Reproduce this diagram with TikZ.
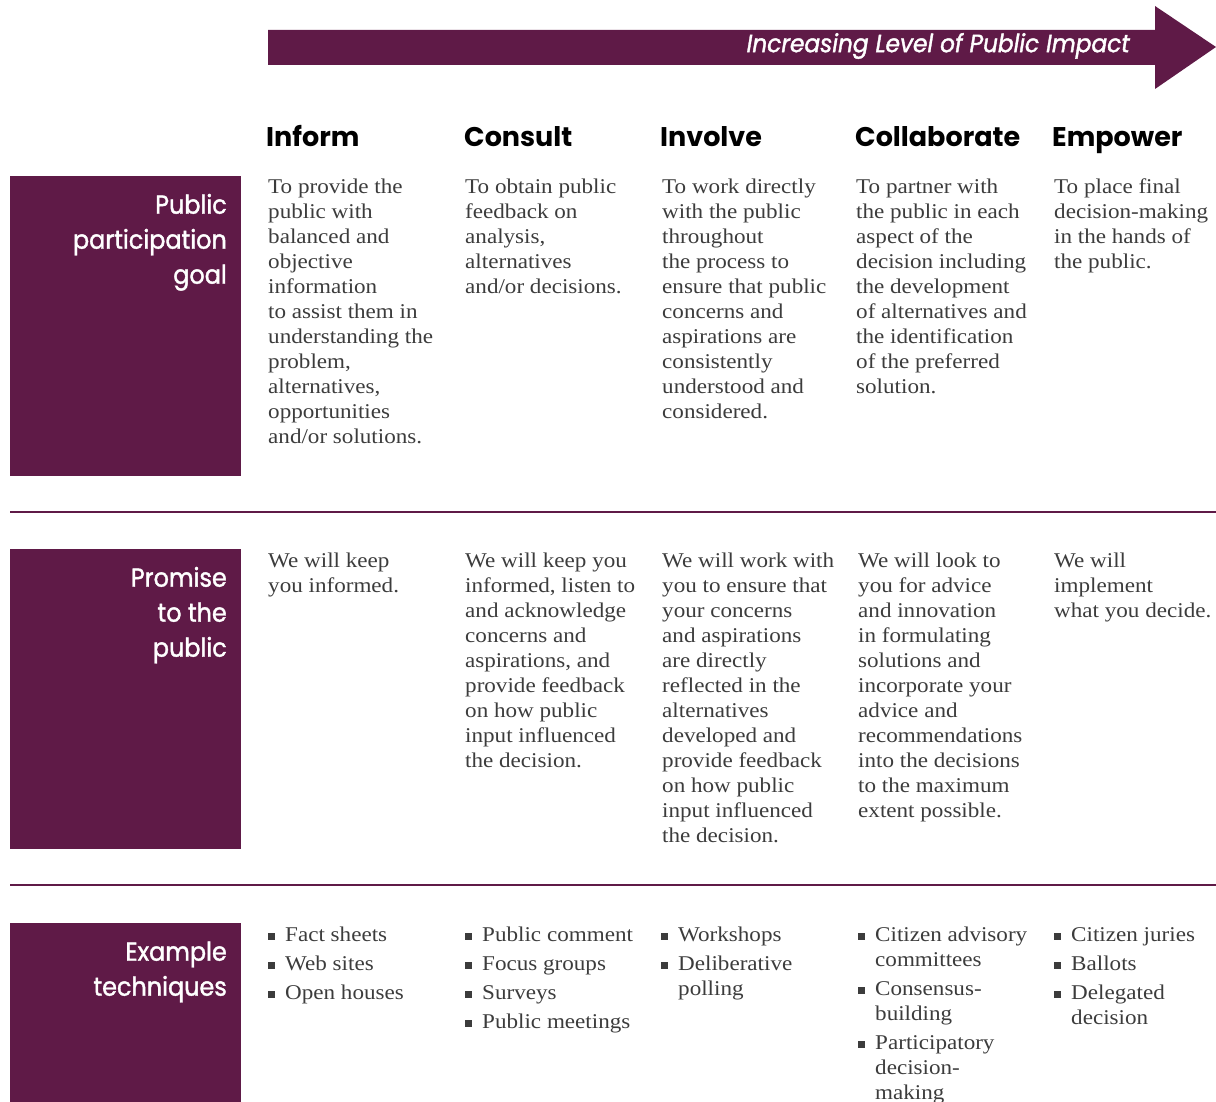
\documentclass[tikz,border=0pt]{standalone}
\usepackage{fontspec}
\setmainfont{Liberation Serif}[FakeStretch=1.1]
\setsansfont{Poppins}
\newfontfamily\lblfont{Poppins}[FakeStretch=0.92,FakeBold=1.5]
\newfontfamily\arrfont{Poppins}[FakeStretch=0.93,FakeBold=1.5]
\definecolor{iap}{HTML}{5F1A47}
\definecolor{bodytxt}{HTML}{3C3C3C}
\newcommand\itm{\makebox[17pt][l]{\rule[1.5pt]{7pt}{7pt}}}
\newcommand\ind{\hspace*{17pt}}
\begin{document}
\begin{tikzpicture}[x=1pt,y=-1pt,
  lbl/.style={anchor=north east, inner sep=0, align=right, text=white, font=\lblfont\fontsize{26}{35}\selectfont},
  hdr/.style={anchor=base west, inner sep=0, font=\sffamily\bfseries\fontsize{27}{32}\selectfont, text=black},
  txt/.style={anchor=north west, inner sep=0, align=left, text=bodytxt, font=\fontsize{21}{25}\selectfont},
  lst/.style={txt},
  rowbox/.style={fill=iap, draw=none, anchor=north west, minimum width=231pt, inner sep=0},
  sep/.style={draw=iap, line width=1.2pt}]
\useasboundingbox (0,0) rectangle (1216,1102);
% arrow
\fill[iap] (268,30) -- (1155,30) -- (1155,6) -- (1216,47) -- (1155,89) -- (1155,65) -- (268,65) -- cycle;
\node[anchor=east, inner sep=0, text=white, font=\arrfont\itshape\fontsize{25}{28}\selectfont] (arrowtxt) at (1130,46) {Increasing Level of Public Impact};
% headers
\node[hdr] (h1) at (266,147) {Inform};
\node[hdr] (h2) at (464,147) {Consult};
\node[hdr] (h3) at (660,147) {Involve};
\node[hdr] (h4) at (855,147) {Collaborate};
\node[hdr] (h5) at (1052,147) {Empower};
% row boxes
\node[rowbox, minimum height=300pt] (b1) at (10,176) {};
\node[rowbox, minimum height=300pt] (b2) at (10,549) {};
\node[rowbox, minimum height=179pt] (b3) at (10,923) {};
\node[lbl] (l1) at (227,189) {\strut Public\\participation\\goal};
\node[lbl] (l2) at (227,562) {\strut Promise\\to the\\public};
\node[lbl] (l3) at (227,936) {\strut Example\\techniques};
% separators
\coordinate (s1a) at (10,512); \coordinate (s1b) at (1216,512);
\coordinate (s2a) at (10,885); \coordinate (s2b) at (1216,885);
\draw[sep] (s1a) -- (s1b);
\draw[sep] (s2a) -- (s2b);
% row 1
\node[txt] (g1) at (268,176) {\strut To provide the\\public with\\balanced and\\objective\\information\\to assist them in\\understanding the\\problem,\\alternatives,\\opportunities\\and/or solutions.};
\node[txt] (g2) at (465,176) {\strut To obtain public\\feedback on\\analysis,\\alternatives\\and/or decisions.};
\node[txt] (g3) at (662,176) {\strut To work directly\\with the public\\throughout\\the process to\\ensure that public\\concerns and\\aspirations are\\consistently\\understood and\\considered.};
\node[txt] (g4) at (856,176) {\strut To partner with\\the public in each\\aspect of the\\decision including\\the development\\of alternatives and\\the identification\\of the preferred\\solution.};
\node[txt] (g5) at (1054,176) {\strut To place final\\decision-making\\in the hands of\\the public.};
% row 2
\node[txt] (p1) at (268,550) {\strut We will keep\\you informed.};
\node[txt] (p2) at (465,550) {\strut We will keep you\\informed, listen to\\and acknowledge\\concerns and\\aspirations, and\\provide feedback\\on how public\\input influenced\\the decision.};
\node[txt] (p3) at (662,550) {\strut We will work with\\you to ensure that\\your concerns\\and aspirations\\are directly\\reflected in the\\alternatives\\developed and\\provide feedback\\on how public\\input influenced\\the decision.};
\node[txt] (p4) at (858,550) {\strut We will look to\\you for advice\\and innovation\\in formulating\\solutions and\\incorporate your\\advice and\\recommendations\\into the decisions\\to the maximum\\extent possible.};
\node[txt] (p5) at (1054,550) {\strut We will\\implement\\what you decide.};
% row 3
\node[lst] (t1) at (268,924) {\strut\itm Fact sheets\\[4pt]\itm Web sites\\[4pt]\itm Open houses};
\node[lst] (t2) at (465,924) {\strut\itm Public comment\\[4pt]\itm Focus groups\\[4pt]\itm Surveys\\[4pt]\itm Public meetings};
\node[lst] (t3) at (661,924) {\strut\itm Workshops\\[4pt]\itm Deliberative\\\ind polling};
\node[lst] (t4) at (858,924) {\strut\itm Citizen advisory\\\ind committees\\[4pt]\itm Consensus-\\\ind building\\[4pt]\itm Participatory\\\ind decision-\\\ind making};
\node[lst] (t5) at (1054,924) {\strut\itm Citizen juries\\[4pt]\itm Ballots\\[4pt]\itm Delegated\\\ind decision};
\end{tikzpicture}
\end{document}
